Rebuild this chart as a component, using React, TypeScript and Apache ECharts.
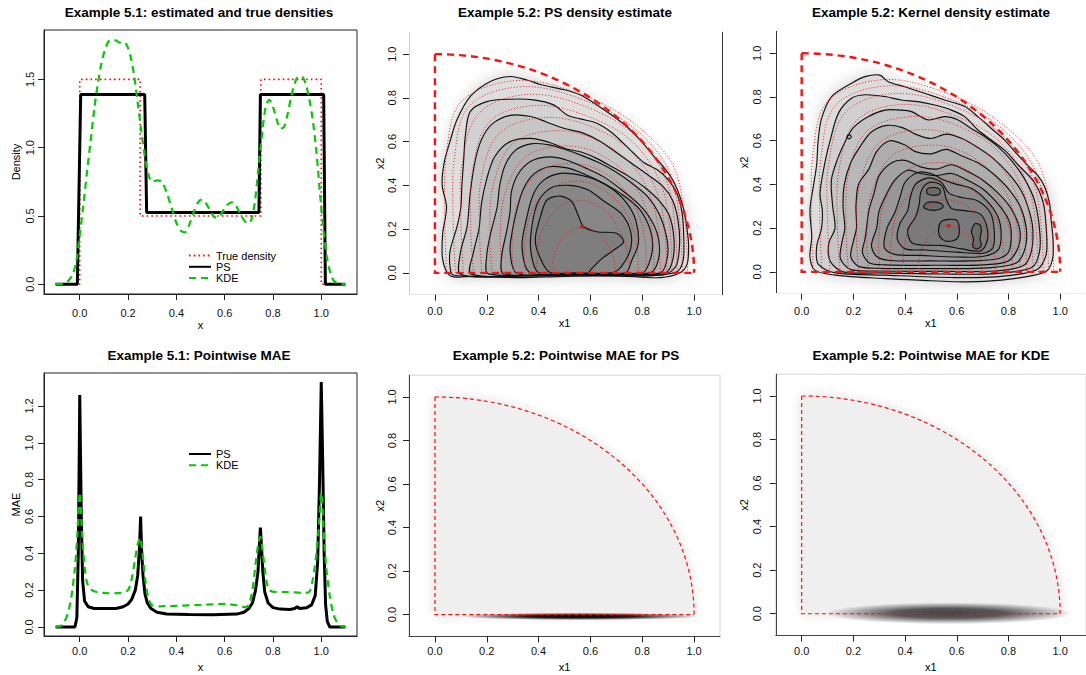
import React, { useEffect, useRef } from "react";
import * as echarts from "echarts";

const FONT = "'Liberation Sans', Arial, Helvetica, sans-serif";

// ---------- texts / ticks ----------
const TITLES = [
  "Example 5.1: estimated and true densities",
  "Example 5.2: PS density estimate",
  "Example 5.2: Kernel density estimate",
  "Example 5.1: Pointwise MAE",
  "Example 5.2: Pointwise MAE for PS",
  "Example 5.2: Pointwise MAE for KDE",
];
const X_TICKS = [0, 0.2, 0.4, 0.6, 0.8, 1.0];
const X2_TICKS = [0, 0.2, 0.4, 0.6, 0.8, 1.0];
const DENS_Y_TICKS = [0, 0.5, 1.0, 1.5];
const MAE_Y_TICKS = [0, 0.2, 0.4, 0.6, 0.8, 1.0, 1.2];
const LEGEND_DENS = ["True density", "PS", "KDE"];
const LEGEND_MAE = ["PS", "KDE"];

// ---------- Example 5.1 ----------
const TRUE_DENSITY = [[-0.1, 0], [0, 0], [0, 1.5], [0.25, 1.5], [0.25, 0.5], [0.75, 0.5], [0.75, 1.5], [1, 1.5], [1, 0], [1.1, 0]];
const PS_DENSITY = [[-0.1, 0], [-0.01, 0], [0.004, 1.39], [0.269, 1.39], [0.277, 0.525], [0.742, 0.525], [0.748, 1.39], [1.01, 1.39], [1.017, 0], [1.1, 0]];
const KDE_DENSITY = [[-0.1, 0], [-0.07, 0.003], [-0.05, 0.02], [-0.03, 0.07], [-0.015, 0.16], [0.0, 0.36], [0.015, 0.58], [0.03, 0.82], [0.045, 1.05], [0.06, 1.28], [0.075, 1.47], [0.09, 1.62], [0.105, 1.72], [0.12, 1.78], [0.135, 1.79], [0.15, 1.785], [0.165, 1.77], [0.18, 1.775], [0.195, 1.75], [0.21, 1.67], [0.225, 1.53], [0.24, 1.33], [0.255, 1.12], [0.27, 0.93], [0.285, 0.8], [0.3, 0.75], [0.32, 0.76], [0.34, 0.75], [0.36, 0.67], [0.38, 0.56], [0.4, 0.45], [0.42, 0.39], [0.435, 0.38], [0.45, 0.42], [0.47, 0.52], [0.49, 0.6], [0.505, 0.62], [0.52, 0.6], [0.54, 0.54], [0.56, 0.49], [0.575, 0.49], [0.59, 0.53], [0.61, 0.58], [0.63, 0.6], [0.645, 0.58], [0.66, 0.53], [0.68, 0.47], [0.695, 0.445], [0.71, 0.47], [0.725, 0.6], [0.74, 0.85], [0.755, 1.1], [0.77, 1.3], [0.785, 1.35], [0.8, 1.3], [0.815, 1.21], [0.83, 1.14], [0.845, 1.15], [0.86, 1.24], [0.875, 1.37], [0.89, 1.47], [0.905, 1.52], [0.92, 1.52], [0.935, 1.47], [0.95, 1.36], [0.965, 1.2], [0.98, 0.97], [0.995, 0.66], [1.01, 0.38], [1.025, 0.18], [1.04, 0.07], [1.055, 0.02], [1.075, 0.003], [1.1, 0]];
const PS_MAE = [[-0.1, 0], [-0.02, 0], [-0.012, 0.05], [-0.006, 0.4], [-0.002, 0.95], [0.0, 1.26], [0.003, 0.95], [0.007, 0.55], [0.012, 0.25], [0.02, 0.14], [0.035, 0.11], [0.06, 0.1], [0.1, 0.1], [0.15, 0.1], [0.18, 0.11], [0.2, 0.125], [0.215, 0.15], [0.23, 0.2], [0.24, 0.28], [0.247, 0.42], [0.252, 0.6], [0.256, 0.42], [0.262, 0.28], [0.27, 0.18], [0.28, 0.13], [0.295, 0.1], [0.32, 0.08], [0.36, 0.07], [0.45, 0.068], [0.55, 0.067], [0.65, 0.07], [0.68, 0.08], [0.7, 0.1], [0.715, 0.13], [0.728, 0.2], [0.738, 0.3], [0.744, 0.45], [0.748, 0.54], [0.752, 0.45], [0.758, 0.3], [0.766, 0.19], [0.78, 0.13], [0.8, 0.105], [0.83, 0.097], [0.87, 0.095], [0.89, 0.1], [0.9, 0.11], [0.91, 0.1], [0.94, 0.105], [0.96, 0.12], [0.975, 0.17], [0.985, 0.35], [0.993, 0.8], [1.0, 1.33], [1.006, 0.9], [1.012, 0.4], [1.018, 0.12], [1.025, 0.03], [1.035, 0], [1.1, 0]];
const KDE_MAE = [[-0.1, 0], [-0.08, 0.005], [-0.065, 0.025], [-0.05, 0.07], [-0.035, 0.16], [-0.02, 0.32], [-0.01, 0.5], [0.0, 0.73], [0.01, 0.5], [0.02, 0.33], [0.03, 0.24], [0.045, 0.205], [0.07, 0.19], [0.12, 0.183], [0.17, 0.185], [0.2, 0.2], [0.215, 0.26], [0.228, 0.36], [0.24, 0.45], [0.25, 0.485], [0.26, 0.4], [0.272, 0.25], [0.285, 0.15], [0.3, 0.118], [0.33, 0.112], [0.4, 0.115], [0.5, 0.12], [0.6, 0.125], [0.65, 0.118], [0.685, 0.108], [0.7, 0.12], [0.715, 0.2], [0.728, 0.34], [0.74, 0.46], [0.748, 0.49], [0.76, 0.38], [0.773, 0.25], [0.785, 0.2], [0.81, 0.19], [0.86, 0.19], [0.92, 0.185], [0.95, 0.19], [0.965, 0.26], [0.98, 0.4], [0.99, 0.55], [1.0, 0.73], [1.01, 0.52], [1.02, 0.33], [1.035, 0.17], [1.05, 0.07], [1.065, 0.025], [1.08, 0.005], [1.1, 0]];

// ---------- Example 5.2 ----------
const SUPPORT_RADIUS = [1];
const TRUE_MODE = [[0.568, 0.211]];
const TRUE_CONTOURS = [
  [[0.452, 0], [0.455, 0.06], [0.475, 0.13], [0.515, 0.185], [0.568, 0.211], [0.62, 0.19], [0.66, 0.14], [0.688, 0.07], [0.696, 0]],
  [[0.394, 0], [0.395, 0.1], [0.42, 0.21], [0.48, 0.3], [0.56, 0.33], [0.64, 0.3], [0.7, 0.22], [0.74, 0.11], [0.75, 0]],
  [[0.349, 0], [0.345, 0.12], [0.37, 0.27], [0.44, 0.38], [0.55, 0.42], [0.65, 0.38], [0.73, 0.29], [0.775, 0.15], [0.785, 0]],
  [[0.304, 0], [0.298, 0.14], [0.32, 0.32], [0.4, 0.46], [0.53, 0.5], [0.65, 0.46], [0.75, 0.35], [0.805, 0.19], [0.815, 0]],
  [[0.259, 0], [0.252, 0.16], [0.27, 0.36], [0.35, 0.53], [0.5, 0.58], [0.64, 0.54], [0.76, 0.42], [0.83, 0.23], [0.845, 0]],
  [[0.22, 0], [0.212, 0.18], [0.225, 0.4], [0.3, 0.59], [0.46, 0.65], [0.62, 0.61], [0.77, 0.48], [0.85, 0.28], [0.87, 0]],
  [[0.181, 0], [0.172, 0.2], [0.18, 0.44], [0.25, 0.64], [0.42, 0.71], [0.6, 0.67], [0.77, 0.54], [0.87, 0.32], [0.895, 0]],
  [[0.149, 0], [0.138, 0.22], [0.145, 0.47], [0.21, 0.69], [0.38, 0.765], [0.58, 0.72], [0.77, 0.59], [0.885, 0.36], [0.915, 0]],
  [[0.11, 0], [0.1, 0.24], [0.105, 0.5], [0.17, 0.73], [0.35, 0.815], [0.56, 0.77], [0.77, 0.63], [0.9, 0.4], [0.935, 0]],
  [[0.079, 0], [0.07, 0.25], [0.075, 0.52], [0.13, 0.76], [0.32, 0.85], [0.54, 0.805], [0.77, 0.66], [0.915, 0.43], [0.955, 0]],
  [[0.045, 0], [0.038, 0.26], [0.045, 0.55], [0.1, 0.78], [0.3, 0.878], [0.52, 0.835], [0.76, 0.69], [0.93, 0.46], [0.975, 0]],
];
const PS_CONTOURS = [
  [[0.15, -0.016], [0.06, -0.014], [0.03, 0.06], [0.03, 0.18], [0.045, 0.3], [0.028, 0.4], [0.035, 0.5], [0.058, 0.6], [0.085, 0.7], [0.136, 0.806], [0.214, 0.875], [0.29, 0.898], [0.355, 0.882], [0.41, 0.86], [0.5, 0.837], [0.56, 0.814], [0.625, 0.768], [0.69, 0.715], [0.74, 0.669], [0.79, 0.61], [0.84, 0.54], [0.885, 0.48], [0.92, 0.42], [0.945, 0.35], [0.962, 0.28], [0.973, 0.2], [0.979, 0.12], [0.973, 0.04], [0.945, 0.0], [0.87, -0.022], [0.7, -0.014], [0.5, -0.016], [0.33, -0.022]],
  [[0.25, -0.016], [0.07, -0.01], [0.058, 0.03], [0.059, 0.104], [0.085, 0.21], [0.1, 0.3], [0.104, 0.4], [0.111, 0.516], [0.117, 0.623], [0.136, 0.737], [0.2, 0.783], [0.291, 0.794], [0.381, 0.791], [0.458, 0.768], [0.51, 0.722], [0.561, 0.704], [0.625, 0.684], [0.677, 0.646], [0.728, 0.592], [0.767, 0.547], [0.806, 0.505], [0.86, 0.47], [0.9, 0.425], [0.934, 0.363], [0.954, 0.272], [0.96, 0.165], [0.958, 0.058], [0.932, 0.004], [0.8, -0.014], [0.5, -0.01]],
  [[0.35, -0.012], [0.1, -0.008], [0.098, 0.09], [0.124, 0.21], [0.136, 0.363], [0.156, 0.516], [0.18, 0.61], [0.22, 0.68], [0.29, 0.72], [0.37, 0.715], [0.43, 0.69], [0.5, 0.66], [0.57, 0.64], [0.64, 0.6], [0.7, 0.55], [0.76, 0.5], [0.82, 0.45], [0.88, 0.395], [0.918, 0.33], [0.938, 0.24], [0.944, 0.13], [0.93, 0.03], [0.88, -0.01], [0.6, -0.01]],
  [[0.4, -0.01], [0.14, -0.006], [0.15, 0.1], [0.17, 0.2], [0.18, 0.32], [0.2, 0.43], [0.23, 0.53], [0.29, 0.6], [0.37, 0.615], [0.44, 0.597], [0.5, 0.57], [0.57, 0.55], [0.63, 0.52], [0.69, 0.48], [0.75, 0.44], [0.81, 0.39], [0.865, 0.33], [0.905, 0.26], [0.922, 0.16], [0.918, 0.06], [0.89, 0.0], [0.7, -0.008]],
  [[0.6, -0.006], [0.207, -0.005], [0.2, 0.08], [0.215, 0.18], [0.24, 0.3], [0.25, 0.4], [0.27, 0.49], [0.31, 0.56], [0.37, 0.59], [0.44, 0.585], [0.5, 0.565], [0.57, 0.535], [0.64, 0.5], [0.7, 0.46], [0.76, 0.41], [0.82, 0.35], [0.865, 0.27], [0.893, 0.17], [0.898, 0.08], [0.87, 0.0]],
  [[0.55, -0.004], [0.265, -0.004], [0.258, 0.08], [0.275, 0.18], [0.29, 0.28], [0.295, 0.37], [0.32, 0.45], [0.37, 0.51], [0.44, 0.53], [0.51, 0.515], [0.58, 0.48], [0.65, 0.44], [0.72, 0.38], [0.79, 0.31], [0.84, 0.23], [0.865, 0.14], [0.86, 0.05], [0.83, 0.0]],
  [[0.55, -0.003], [0.317, -0.003], [0.29, 0.1], [0.3, 0.2], [0.316, 0.287], [0.34, 0.38], [0.38, 0.45], [0.44, 0.485], [0.51, 0.48], [0.58, 0.45], [0.65, 0.41], [0.72, 0.36], [0.79, 0.29], [0.83, 0.2], [0.84, 0.12], [0.825, 0.04], [0.8, 0.0]],
  [[0.55, -0.002], [0.368, 0.0], [0.336, 0.119], [0.355, 0.256], [0.381, 0.363], [0.42, 0.424], [0.484, 0.455], [0.561, 0.447], [0.625, 0.424], [0.69, 0.379], [0.741, 0.318], [0.775, 0.241], [0.785, 0.134], [0.76, 0.058], [0.735, 0.0]],
  [[0.52, 0.0], [0.4, 0.0], [0.37, 0.1], [0.375, 0.22], [0.4, 0.33], [0.45, 0.39], [0.52, 0.4], [0.59, 0.38], [0.65, 0.33], [0.72, 0.27], [0.755, 0.19], [0.755, 0.11], [0.72, 0.03], [0.68, 0.0]],
  [[0.51, -0.003], [0.439, 0.005], [0.394, 0.104], [0.388, 0.165], [0.407, 0.256], [0.432, 0.333], [0.484, 0.351], [0.529, 0.325], [0.555, 0.256], [0.574, 0.211], [0.625, 0.188], [0.703, 0.18], [0.728, 0.142], [0.69, 0.104], [0.645, 0.066], [0.606, 0.02], [0.587, -0.003]],
];
const KDE_CONTOURS = [
  [[0.322, -0.031], [0.129, -0.015], [0.051, 0.008], [0.032, 0.069], [0.039, 0.16], [0.032, 0.282], [0.045, 0.389], [0.058, 0.49], [0.064, 0.603], [0.077, 0.702], [0.116, 0.802], [0.193, 0.863], [0.245, 0.893], [0.302, 0.9], [0.335, 0.87], [0.399, 0.847], [0.476, 0.817], [0.553, 0.786], [0.631, 0.756], [0.682, 0.71], [0.734, 0.656], [0.785, 0.603], [0.837, 0.534], [0.88, 0.48], [0.914, 0.44], [0.94, 0.389], [0.959, 0.313], [0.965, 0.237], [0.972, 0.16], [0.972, 0.069], [0.952, 0.008], [0.901, -0.015], [0.772, -0.038], [0.644, -0.046], [0.45, -0.038]],
  [[0.32, -0.015], [0.13, -0.005], [0.064, 0.035], [0.058, 0.115], [0.077, 0.2], [0.08, 0.28], [0.071, 0.359], [0.09, 0.5], [0.11, 0.6], [0.142, 0.725], [0.193, 0.794], [0.245, 0.81], [0.322, 0.802], [0.386, 0.786], [0.45, 0.779], [0.515, 0.763], [0.579, 0.74], [0.631, 0.71], [0.682, 0.649], [0.734, 0.603], [0.785, 0.557], [0.837, 0.49], [0.9, 0.41], [0.935, 0.313], [0.946, 0.2], [0.946, 0.08], [0.91, 0.01], [0.75, -0.023], [0.58, -0.026]],
  [[0.3, -0.005], [0.16, 0.0], [0.11, 0.05], [0.105, 0.13], [0.129, 0.2], [0.12, 0.3], [0.115, 0.42], [0.14, 0.52], [0.17, 0.6], [0.2, 0.66], [0.257, 0.71], [0.322, 0.74], [0.38, 0.74], [0.425, 0.733], [0.489, 0.695], [0.553, 0.71], [0.605, 0.695], [0.656, 0.656], [0.708, 0.618], [0.759, 0.573], [0.811, 0.51], [0.86, 0.43], [0.9, 0.33], [0.92, 0.2], [0.92, 0.09], [0.89, 0.02], [0.75, -0.008], [0.55, -0.01]],
  [[0.3, 0.004], [0.19, 0.01], [0.15, 0.06], [0.155, 0.13], [0.167, 0.2], [0.16, 0.3], [0.165, 0.4], [0.19, 0.5], [0.23, 0.58], [0.27, 0.64], [0.33, 0.67], [0.39, 0.66], [0.44, 0.63], [0.5, 0.61], [0.56, 0.63], [0.62, 0.61], [0.68, 0.57], [0.74, 0.52], [0.8, 0.45], [0.85, 0.37], [0.88, 0.28], [0.894, 0.2], [0.89, 0.1], [0.86, 0.03], [0.75, 0.004], [0.55, 0.002]],
  [[0.3, 0.016], [0.22, 0.025], [0.19, 0.07], [0.2, 0.14], [0.212, 0.2], [0.21, 0.3], [0.22, 0.4], [0.26, 0.47], [0.29, 0.55], [0.34, 0.6], [0.4, 0.58], [0.44, 0.55], [0.5, 0.54], [0.56, 0.56], [0.62, 0.53], [0.68, 0.5], [0.74, 0.45], [0.8, 0.38], [0.845, 0.3], [0.869, 0.2], [0.865, 0.11], [0.83, 0.04], [0.72, 0.018], [0.55, 0.015]],
  [[0.55, 0.03], [0.32, 0.032], [0.26, 0.042], [0.235, 0.09], [0.245, 0.15], [0.251, 0.2], [0.26, 0.28], [0.28, 0.36], [0.3, 0.44], [0.35, 0.5], [0.4, 0.51], [0.46, 0.48], [0.52, 0.47], [0.58, 0.49], [0.64, 0.46], [0.7, 0.42], [0.76, 0.36], [0.81, 0.29], [0.843, 0.2], [0.84, 0.12], [0.8, 0.05], [0.7, 0.032]],
  [[0.5, 0.05], [0.34, 0.052], [0.29, 0.07], [0.27, 0.12], [0.29, 0.2], [0.3, 0.28], [0.33, 0.36], [0.36, 0.42], [0.41, 0.465], [0.46, 0.45], [0.52, 0.44], [0.58, 0.45], [0.64, 0.42], [0.7, 0.38], [0.76, 0.31], [0.8, 0.24], [0.811, 0.17], [0.8, 0.09], [0.76, 0.06], [0.65, 0.05]],
  [[0.46, 0.075], [0.36, 0.08], [0.32, 0.11], [0.33, 0.2], [0.36, 0.27], [0.38, 0.34], [0.4, 0.41], [0.45, 0.455], [0.5, 0.45], [0.55, 0.42], [0.6, 0.4], [0.66, 0.38], [0.72, 0.32], [0.76, 0.25], [0.772, 0.17], [0.76, 0.1], [0.7, 0.07], [0.6, 0.068]],
  [[0.48, 0.1], [0.4, 0.105], [0.37, 0.15], [0.38, 0.22], [0.41, 0.28], [0.42, 0.34], [0.44, 0.4], [0.49, 0.43], [0.54, 0.41], [0.57, 0.36], [0.62, 0.34], [0.68, 0.325], [0.73, 0.27], [0.745, 0.19], [0.74, 0.11], [0.7, 0.085], [0.6, 0.09]],
  [[0.55, 0.12], [0.43, 0.13], [0.41, 0.19], [0.44, 0.25], [0.455, 0.31], [0.46, 0.36], [0.48, 0.4], [0.51, 0.41], [0.545, 0.39], [0.56, 0.33], [0.58, 0.29], [0.63, 0.28], [0.69, 0.265], [0.718, 0.2], [0.715, 0.13], [0.69, 0.095], [0.62, 0.105]],
  [[0.483, 0.368], [0.49, 0.382], [0.51, 0.386], [0.53, 0.381], [0.537, 0.368], [0.53, 0.354], [0.51, 0.35], [0.49, 0.355]],
  [[0.472, 0.3], [0.485, 0.316], [0.51, 0.32], [0.537, 0.314], [0.548, 0.3], [0.535, 0.286], [0.51, 0.281], [0.484, 0.286]],
  [[0.66, 0.2], [0.67, 0.22], [0.69, 0.215], [0.695, 0.185], [0.69, 0.15], [0.695, 0.12], [0.68, 0.105], [0.662, 0.115], [0.665, 0.15], [0.657, 0.18]],
  [[0.53, 0.2], [0.535, 0.16], [0.56, 0.14], [0.6, 0.15], [0.61, 0.19], [0.6, 0.235], [0.57, 0.24], [0.54, 0.23]],
  [[0.175, 0.618], [0.183, 0.628], [0.192, 0.618], [0.183, 0.608]],
];
// [centre x1, centre x2, half-width, half-height, peak darkness]
const PS_MAE_BAND = [[0.56, -0.008, 0.46, 0.017, 1.0]];
const KDE_MAE_BAND = [[0.57, 0.002, 0.48, 0.05, 0.72]];

// ---------- styles ----------
const PS_FILLS = ["#dedede", "#d2d2d2", "#c6c6c6", "#bababa", "#afafaf", "#a4a4a4", "#9a9a9a", "#909090", "#878787", "#7e7e7e"];
const KDE_FILLS = ["#dcdcdc", "#d0d0d0", "#c4c4c4", "#b8b8b8", "#adadad", "#a2a2a2", "#979797", "#8d8d8d", "#838383", "#7a7a7a", "#6c6c6c", "#6c6c6c", "#6c6c6c", "#747474", "#c8c8c8"];
const KAPPA = 0.5523;
const GREEN = "#00cc00";

function axis(gridIndex: number, min: number, max: number, ticks: number[], o: any) {
  return {
    type: "value",
    gridIndex,
    min,
    max,
    position: o.position,
    name: o.name,
    nameLocation: "middle",
    nameGap: o.nameGap,
    nameTextStyle: { fontSize: 11, color: "#000", fontFamily: FONT },
    axisLine: { show: true, onZero: false, lineStyle: { color: o.lineColor, width: 1 } },
    axisTick: { show: true, inside: false, length: 6, customValues: ticks, lineStyle: { color: "#222", width: 1 } },
    axisLabel: {
      show: true,
      customValues: ticks,
      margin: o.margin,
      rotate: o.rotate || 0,
      fontSize: 11,
      color: "#111",
      fontFamily: FONT,
      formatter: (v: number) => Number(v).toFixed(1),
    },
    splitLine: { show: false },
  };
}

function polySeries(ai: number, contours: number[][][], fills: string[] | null, stroke: boolean) {
  return {
    type: "custom",
    xAxisIndex: ai,
    yAxisIndex: ai,
    silent: true,
    data: contours.map((c) => [c[0][0], c[0][1]]),
    renderItem: (params: any, api: any) => {
      const i = params.dataIndex;
      const pts = contours[i].map((p) => api.coord(p));
      const style: any = stroke
        ? { fill: "none", stroke: "#111", lineWidth: 1.15 }
        : { fill: fills ? fills[i] : "#ccc", stroke: "none" };
      if (!stroke && i === 0) {
        style.shadowBlur = 16;
        style.shadowColor = "rgba(0,0,0,0.22)";
      }
      return { type: "polygon", shape: { points: pts, smooth: 0.3 }, style };
    },
  };
}

function trueSeries(ai: number) {
  return {
    type: "custom",
    xAxisIndex: ai,
    yAxisIndex: ai,
    silent: true,
    data: TRUE_CONTOURS.map((c) => [c[0][0], c[0][1]]),
    renderItem: (params: any, api: any) => ({
      type: "polyline",
      shape: { points: TRUE_CONTOURS[params.dataIndex].map((p) => api.coord(p)), smooth: 0.35 },
      style: { fill: "none", stroke: "rgba(255,0,0,0.85)", lineWidth: 1, lineDash: [1, 2] },
    }),
  };
}

function modeSeries(ai: number) {
  return {
    type: "scatter",
    xAxisIndex: ai,
    yAxisIndex: ai,
    silent: true,
    data: TRUE_MODE,
    symbol: "rect",
    symbolSize: 3.5,
    itemStyle: { color: "#ff0000" },
  };
}

function boundarySeries(ai: number, width: number, dash: number[]) {
  return {
    type: "custom",
    xAxisIndex: ai,
    yAxisIndex: ai,
    silent: true,
    data: SUPPORT_RADIUS.map((r) => [r, r]),
    renderItem: (params: any, api: any) => {
      const r = api.value(0);
      const o = api.coord([0, 0]);
      const top = api.coord([0, r]);
      const right = api.coord([r, 0]);
      const c1 = api.coord([KAPPA * r, r]);
      const c2 = api.coord([r, KAPPA * r]);
      const st = () => ({ fill: "none", stroke: "#ff1010", lineWidth: width, lineDash: dash });
      return {
        type: "group",
        children: [
          { type: "polyline", shape: { points: [top, o, right] }, style: st() },
          {
            type: "bezierCurve",
            shape: { x1: top[0], y1: top[1], cpx1: c1[0], cpy1: c1[1], cpx2: c2[0], cpy2: c2[1], x2: right[0], y2: right[1] },
            style: st(),
          },
        ],
      };
    },
  };
}

function discSeries(ai: number, fill: string) {
  return {
    type: "custom",
    xAxisIndex: ai,
    yAxisIndex: ai,
    silent: true,
    data: SUPPORT_RADIUS.map((r) => [r, r]),
    renderItem: (params: any, api: any) => {
      const r = api.value(0);
      const o = api.coord([0, 0]);
      const sx = api.size([r, 0])[0];
      const sy = api.size([0, r])[1];
      return {
        type: "sector",
        x: o[0],
        y: o[1],
        scaleY: sy / sx,
        shape: { cx: 0, cy: 0, r: sx, r0: 0, startAngle: -Math.PI / 2, endAngle: 0, clockwise: true },
        style: { fill, shadowBlur: 12, shadowColor: "rgba(0,0,0,0.14)" },
      };
    },
  };
}

function bandSeries(ai: number, band: number[][]) {
  return {
    type: "custom",
    xAxisIndex: ai,
    yAxisIndex: ai,
    silent: true,
    data: band,
    renderItem: (params: any, api: any) => {
      const cx = api.value(0);
      const cy = api.value(1);
      const rx = api.value(2);
      const ry = api.value(3);
      const a = api.value(4);
      const lt = api.coord([cx - rx, cy + ry]);
      const sz = api.size([2 * rx, 2 * ry]);
      return {
        type: "rect",
        shape: { x: lt[0], y: lt[1], width: sz[0], height: sz[1] },
        style: {
          fill: new echarts.graphic.RadialGradient(0.5, 0.5, 0.5, [
            { offset: 0, color: `rgba(0,0,0,${a})` },
            { offset: 0.45, color: `rgba(0,0,0,${a * 0.88})` },
            { offset: 0.75, color: `rgba(0,0,0,${a * 0.4})` },
            { offset: 1, color: "rgba(0,0,0,0)" },
          ]),
        },
      };
    },
  };
}

function buildOption(): any {
  const titleStyle = { fontSize: 13.5, fontWeight: "bold", color: "#000", fontFamily: FONT };
  const tpos = [
    [199, 5.5],
    [565, 5.5],
    [931, 5.5],
    [199, 348.5],
    [566, 348.5],
    [931, 348.5],
  ];
  const lineSeries = (name: string, ai: number, data: number[][], color: string, width: number, type: any, smooth: number) => ({
    type: "line",
    name,
    xAxisIndex: ai,
    yAxisIndex: ai,
    data,
    symbol: "none",
    showSymbol: false,
    smooth,
    lineStyle: { color, width, type },
    itemStyle: { color },
    silent: true,
  });
  const legendBase = {
    orient: "vertical",
    left: 188,
    padding: 0,
    itemWidth: 22,
    itemHeight: 13,
    itemGap: 0.3,
    selectedMode: false,
    itemStyle: { opacity: 0, borderWidth: 0 },
    textStyle: { fontSize: 11, color: "#000", fontFamily: FONT },
  };

  return {
    animation: false,
    backgroundColor: "#ffffff",
    title: TITLES.map((t, i) => ({
      text: t,
      left: tpos[i][0],
      top: tpos[i][1],
      textAlign: "center",
      padding: 0,
      textStyle: titleStyle,
    })),
    legend: [
      { ...legendBase, data: LEGEND_DENS, top: 250 },
      { ...legendBase, data: LEGEND_MAE, top: 448.5 },
    ],
    grid: [
      { left: 44, top: 30, width: 313, height: 264, show: true, borderColor: "#222", borderWidth: 1 },
      { left: 409, top: 32.3, width: 311, height: 262.4 },
      { left: 775.8, top: 31.4, width: 311, height: 262.3 },
      { left: 44, top: 373, width: 313, height: 263, show: true, borderColor: "#222", borderWidth: 1 },
      { left: 409, top: 375.2, width: 311, height: 261.2, show: true, borderColor: "#d6d6d6", borderWidth: 1 },
      { left: 775.8, top: 374.2, width: 311, height: 261.3, show: true, borderColor: "#d6d6d6", borderWidth: 1 },
    ],
    xAxis: [
      axis(0, -0.148, 1.148, X_TICKS, { name: "x", nameGap: 23.5, margin: 13.5, lineColor: "#222" }),
      axis(1, -0.1, 1.1, X2_TICKS, { name: "x1", nameGap: 23, margin: 11, lineColor: "#e4e4e4" }),
      axis(2, -0.1, 1.1, X2_TICKS, { name: "x1", nameGap: 24, margin: 12, lineColor: "#eeeeee" }),
      axis(3, -0.148, 1.148, X_TICKS, { name: "x", nameGap: 25, margin: 9, lineColor: "#222" }),
      axis(4, -0.1, 1.1, X2_TICKS, { name: "x1", nameGap: 25, margin: 9.5, lineColor: "#444" }),
      axis(5, -0.1, 1.1, X2_TICKS, { name: "x1", nameGap: 25.5, margin: 9.5, lineColor: "#444" }),
    ],
    yAxis: [
      axis(0, -0.0716, 1.862, DENS_Y_TICKS, { name: "Density", nameGap: 23, margin: 9, rotate: 90, lineColor: "#222" }),
      axis(1, -0.1, 1.1, X2_TICKS, { name: "x2", nameGap: 21, margin: 12, rotate: 90, lineColor: "#d0d0d0" }),
      axis(2, -0.1, 1.1, X2_TICKS, { name: "x2", nameGap: 26, margin: 13, rotate: 90, lineColor: "#333" }),
      axis(3, -0.049, 1.379, MAE_Y_TICKS, { name: "MAE", nameGap: 23, margin: 10, rotate: 90, lineColor: "#222" }),
      axis(4, -0.1, 1.1, X2_TICKS, { name: "x2", nameGap: 21, margin: 12, rotate: 90, lineColor: "#444" }),
      axis(5, -0.1, 1.1, X2_TICKS, { name: "x2", nameGap: 26, margin: 13, rotate: 90, lineColor: "#444" }),
      {
        type: "value",
        gridIndex: 1,
        min: -0.1,
        max: 1.1,
        position: "right",
        offset: 2,
        axisLine: { show: true, onZero: false, lineStyle: { color: "#333", width: 1 } },
        axisTick: { show: false },
        axisLabel: { show: false },
        splitLine: { show: false },
      },
    ],
    series: [
      // Panel 1
      lineSeries("True density", 0, TRUE_DENSITY, "#ff0000", 1.6, [1.5, 3.2], 0),
      lineSeries("PS", 0, PS_DENSITY, "#000000", 3, "solid", 0),
      lineSeries("KDE", 0, KDE_DENSITY, GREEN, 2.2, [7, 5], 0.3),
      // Panel 4
      lineSeries("PS", 3, PS_MAE, "#000000", 3, "solid", 0),
      lineSeries("KDE", 3, KDE_MAE, GREEN, 2.2, [7, 5], 0.25),
      // Panel 2
      polySeries(1, PS_CONTOURS, PS_FILLS, false),
      polySeries(1, PS_CONTOURS, null, true),
      trueSeries(1),
      modeSeries(1),
      boundarySeries(1, 2.4, [7, 5]),
      // Panel 3
      polySeries(2, KDE_CONTOURS, KDE_FILLS, false),
      polySeries(2, KDE_CONTOURS, null, true),
      trueSeries(2),
      modeSeries(2),
      boundarySeries(2, 2.4, [7, 5]),
      // Panel 5
      discSeries(4, "#efefef"),
      bandSeries(4, PS_MAE_BAND),
      boundarySeries(4, 1.2, [4, 3]),
      // Panel 6
      discSeries(5, "#efefef"),
      bandSeries(5, KDE_MAE_BAND),
      boundarySeries(5, 1.2, [4, 3]),
    ],
  };
}

export default function App() {
  const ref = useRef<HTMLDivElement>(null);
  useEffect(() => {
    if (!ref.current) return;
    const chart = echarts.init(ref.current, null, { renderer: "svg" });
    chart.setOption(buildOption());
    return () => chart.dispose();
  }, []);
  return (
    <div
      ref={ref}
      style={{ position: "fixed", left: 0, top: 0, width: 1086, height: 675, background: "#fff" }}
    />
  );
}
